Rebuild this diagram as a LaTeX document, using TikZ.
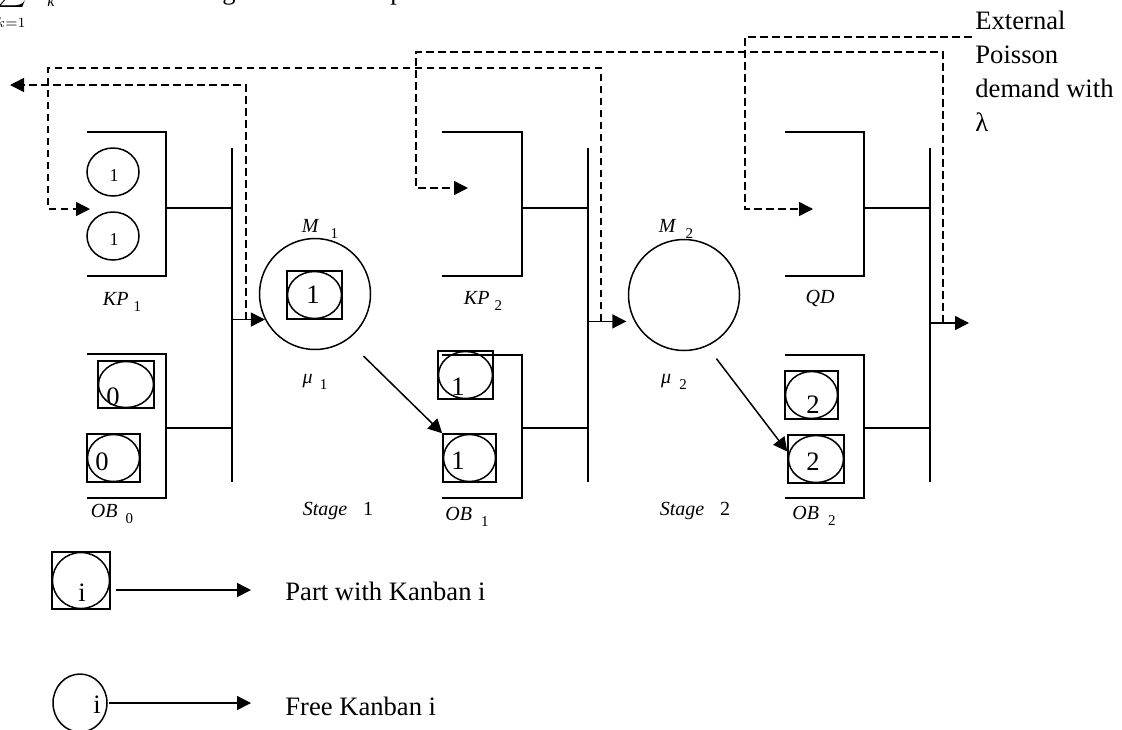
\documentclass[tikz,border=0pt]{standalone}
\usepackage{fontspec}
\setmainfont{Liberation Serif}
\usetikzlibrary{arrows.meta,shapes.geometric,calc}

\tikzset{
  wire/.style={line width=0.75pt},
  kanbanpath/.style={wire, dash pattern=on 3.8pt off 2.2pt},
  tri/.style={-{Triangle[length=7pt,width=7pt]}},
  machine/.style={circle, draw, wire, minimum size=55.5pt, inner sep=0pt},
  partbox/.style={rectangle, draw, wire, inner sep=0pt},
  card/.style={ellipse, draw, wire, inner sep=0pt},
  cardno/.style={font=\fontsize{13.3}{15}\selectfont, inner sep=0pt},
  lbl/.style={font=\fontsize{10}{12}\selectfont, inner sep=0pt},
  txt/.style={font=\fontsize{13.3}{17}\selectfont, inner sep=0pt},
}
\newcommand{\stlabel}[3][3pt]{\textit{#2}\hspace{#1}\raisebox{-3pt}{\fontsize{7.5}{8}\selectfont #3}}

\begin{document}
\begin{tikzpicture}[x=0.5pt,y=-0.5pt]
\useasboundingbox (0,0) rectangle (1122,729);

\node[inner sep=0pt, anchor=south] (sigma) at (12,10) {\fontsize{9}{10}\selectfont$\displaystyle\sum$};
\node[inner sep=0pt, font=\fontsize{7}{8}\selectfont] (sigmalo) at (11,23) {$k{=}1$};
\node[inner sep=0pt, font=\fontsize{8}{9}\selectfont\itshape] (ksub) at (51,1) {k};
\node[txt, anchor=base] (frag1) at (229,-1) {g};
\node[txt, anchor=base] (frag2) at (397,-1) {p};

\foreach \l/\t/\r/\b/\m/\bx in {87/132/166/276/208/232, 87/354/166/498/428/232,
    442/132/522/276/208/588, 442/355/522/498/428/588,
    785/132/864/276/208/930, 785/355/864/498/428/930}
  \draw[wire] (\l,\t) -| (\r,\b) -- (\l,\b) (\r,\m) -- (\bx,\m);

\foreach \nm/\bx in {bar1/232, bar2/588, bar3/930} {
  \coordinate (\nm) at (\bx,148);
  \draw[wire] (\nm) -- ++(0,334);
}

\node[machine] (m1) at (315,294) {};
\node[machine] (m2) at (684,295) {};

\foreach \nm/\cx/\cy/\w/\h/\dx/\dy/\t in {ob0a/126/384.5/56/47/-13/12.5/0,
    ob0b/113.5/458/53/48/-11.5/4/0, m1p/314.5/295/55/48/-1.5/0/1,
    ob1a/465.5/375/55/48/-7.5/12/1, ob1b/469.5/458/53/48/-11.5/3/1,
    ob2a/811.5/395/53/48/1.5/10/2, ob2b/816/459/56/48/-3/3/2,
    legp/81/580.5/58/57/1/12.5/i} {
  \node[partbox, minimum width=\w*0.5pt, minimum height=\h*0.5pt] (\nm) at (\cx,\cy) {};
  \node[card, minimum width=\w*0.5pt-0.5pt, minimum height=\h*0.5pt-0.5pt] at (\nm) {};
  \node[cardno] at ($(\nm)+(\dx,\dy)$) {\t};
}

\foreach \nm/\cy in {kp1a/172, kp1b/236} {
  \node[card, minimum width=26pt, minimum height=24pt] (\nm) at (113,\cy) {};
  \node[inner sep=0pt, font=\fontsize{9}{10}\selectfont] at ($(\nm)+(1,4)$) {1};
}
\node[card, minimum width=27pt, minimum height=29pt] (legf) at (80,703) {};
\node[cardno] at ($(legf)+(17,2)$) {i};

\draw[wire,tri] (bar1 |- m1.207) -- (m1.207);
\draw[wire,tri,shorten >=4pt] (bar2 |- m2.208) -- (m2.208);
\coordinate (demandout) at (969,323);
\draw[wire,tri] (bar3 |- demandout) -- (demandout);

\draw[wire,tri] ($(m1)!1.4!(m1.-52)$) -- (ob1b.north west);
\draw[wire,tri] ($(m2)!1.27!(m2.-63)$) -- ($(ob2b.north west)!0.35!(ob2b.south west)$);

\coordinate (supplier) at (10,85);
\coordinate (kp1in) at (90,209);
\coordinate (kp2in) at (468,188);
\coordinate (qdin) at (813,209);
\coordinate (demandsrc) at (972,37);
\draw[kanbanpath,tri] ($(bar1 |- m1.207)+(14,0)$) |- (supplier);
\draw[kanbanpath,tri] ($(bar2 |- m2.208)+(13,0)$) |- (48,68) |- (kp1in);
\draw[kanbanpath,tri] ($(bar3 |- demandout)+(13,0)$) |- (416,52) |- (kp2in);
\draw[kanbanpath,tri] (demandsrc) -| (745,209) -- (qdin);

\node[txt, anchor=north west, align=left] (demandtxt) at (975,11) {External\\Poisson\\demand with\\λ};

\node[lbl] (kp1lbl) at (122,302) {\stlabel[2.5pt]{KP}{1}};
\node[lbl] (kp2lbl) at (483,301) {\stlabel[2.5pt]{KP}{2}};
\node[lbl] (qdlbl) at (820,298) {\textit{QD}};
\node[lbl] (ob0lbl) at (112,514) {\stlabel[4pt]{OB}{0}};
\node[lbl] (ob1lbl) at (467,517) {\stlabel[4.5pt]{OB}{1}};
\node[lbl] (ob2lbl) at (814,516) {\stlabel[4.5pt]{OB}{2}};
\node[lbl] (m1lbl) at (320,229) {\stlabel[5.5pt]{M}{1}};
\node[lbl] (m2lbl) at (676,229) {\stlabel[4.5pt]{M}{2}};
\node[lbl] (mu1lbl) at (315,382) {\stlabel[3.5pt]{μ}{1}};
\node[lbl] (mu2lbl) at (674,382) {\stlabel[4pt]{μ}{2}};
\node[lbl] (stage1) at (338,511) {\textit{Stage}\hspace{8pt}1};
\node[lbl] (stage2) at (695,511) {\textit{Stage}\hspace{8pt}2};

\node[txt, anchor=base west] (parttxt) at (285,600) {Part with Kanban i};
\node[txt, anchor=base west] (freetxt) at (285,715) {Free Kanban i};
\draw[wire,tri,shorten >=17pt] ([xshift=2.5pt,yshift=-4.75pt]legp.east) -- ([yshift=-4.75pt]legp.east -| parttxt.west);
\draw[wire,tri,shorten >=17pt] ([xshift=0.5pt]legf.east) -- (legf.east -| freetxt.west);
\end{tikzpicture}
\end{document}
